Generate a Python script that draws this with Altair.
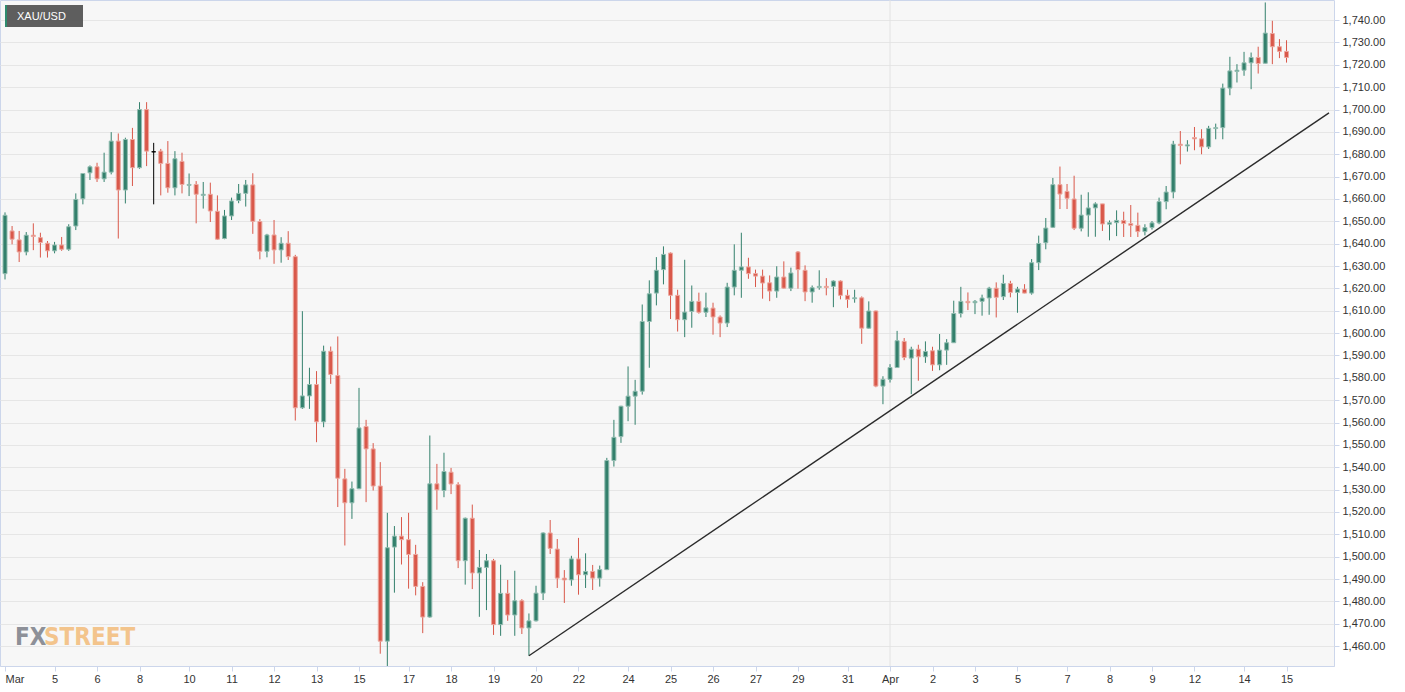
import altair as alt
import pandas as pd

# ---- data (4-hour XAU/USD candles) ----
opens = [1626.6,1645.7,1641.7,1636.3,1643.8,1642.7,1640.2,1636.8,1639.4,1637.5,
         1647.9,1660.1,1671.7,1674.4,1669.0,1672.0,1685.9,1664.0,1686.6,1674.0,
         1700.0,1681.1,1681.4,1675.9,1665.0,1676.8,1666.1,1666.5,1661.6,1662.1,
         1654.5,1642.3,1652.4,1659.3,1662.5,1666.3,1649.9,1636.6,1643.9,1637.2,
         1640.2,1634.2,1566.6,1571.9,1577.0,1560.3,1591.9,1581.0,1534.8,1524.1,
         1530.4,1558.2,1548.2,1531.6,1462.2,1504.3,1509.2,1507.6,1501.0,1486.7,
         1473.0,1532.6,1529.6,1537.8,1532.2,1498.2,1517.2,1492.7,1495.2,1498.2,
         1469.6,1483.6,1473.9,1480.3,1468.1,1471.3,1483.7,1510.6,1503.4,1490.4,
         1489.6,1499.0,1491.9,1493.4,1490.4,1494.2,1543.0,1553.7,1567.3,1571.8,
         1574.0,1605.2,1617.9,1628.4,1635.8,1616.9,1606.0,1609.7,1614.2,1609.3,
         1611.2,1607.2,1604.5,1620.6,1628.1,1629.6,1626.6,1625.5,1622.5,1618.8,
         1625.1,1620.1,1636.3,1628.1,1618.4,1620.4,1620.9,1620.9,1623.3,1616.9,
         1615.4,1615.8,1602.2,1609.9,1576.3,1579.3,1584.6,1596.3,1588.8,1592.8,
         1589.4,1592.1,1585.8,1592.4,1595.7,1608.8,1614.2,1613.6,1614.2,1615.7,
         1620.1,1616.3,1622.2,1618.2,1619.6,1617.9,1631.5,1640.4,1647.3,1666.4,
         1663.4,1660.0,1646.9,1652.8,1656.0,1657.8,1648.7,1649.4,1650.4,1649.0,
         1648.2,1645.4,1647.2,1649.3,1658.8,1663.1,1684.5,1683.7,1687.5,1686.9,
         1683.3,1691.5,1691.9,1709.6,1717.0,1717.6,1720.9,1723.3,1720.7,1734.0,
         1728.1,1726.0]
highs = [1654.0,1647.9,1645.7,1645.2,1649.1,1644.9,1641.2,1640.8,1643.0,1648.7,
         1662.5,1671.6,1675.0,1676.2,1680.7,1689.9,1689.3,1687.4,1691.8,1703.3,
         1703.3,1685.1,1682.4,1685.9,1681.4,1680.7,1671.4,1668.0,1667.6,1667.3,
         1661.6,1655.1,1660.6,1666.7,1668.5,1671.5,1651.0,1644.4,1650.6,1642.9,
         1645.6,1635.0,1609.8,1584.5,1583.0,1594.4,1594.0,1598.5,1539.3,1533.6,
         1575.5,1561.2,1550.8,1542.3,1519.6,1513.7,1517.7,1519.6,1505.3,1488.6,
         1554.2,1541.5,1546.5,1539.7,1533.3,1517.5,1523.3,1503.0,1501.2,1499.0,
         1496.4,1489.6,1493.7,1481.0,1474.6,1487.0,1510.9,1516.4,1507.9,1494.0,
         1500.4,1508.4,1501.5,1496.3,1496.0,1544.2,1561.2,1567.5,1585.1,1579.1,
         1612.8,1623.6,1634.0,1638.8,1636.1,1619.4,1632.8,1621.3,1618.1,1618.1,
         1613.6,1607.9,1622.5,1639.7,1644.9,1633.7,1628.4,1628.4,1625.8,1629.9,
         1632.1,1629.3,1636.7,1630.3,1621.3,1628.1,1624.6,1623.6,1623.6,1619.4,
         1619.4,1616.4,1614.2,1610.1,1580.7,1586.1,1601.0,1597.8,1593.9,1594.8,
         1596.3,1593.9,1599.6,1597.3,1614.5,1620.7,1618.2,1614.8,1617.2,1620.7,
         1622.7,1626.1,1623.4,1620.7,1621.9,1633.1,1643.6,1651.5,1669.4,1674.5,
         1666.7,1670.4,1661.9,1663.0,1658.5,1657.8,1650.4,1654.9,1654.3,1657.3,
         1653.9,1648.7,1650.1,1660.6,1665.8,1686.0,1690.4,1686.3,1692.2,1691.2,
         1692.7,1693.7,1711.6,1723.6,1720.3,1725.8,1725.5,1728.1,1747.9,1739.7,
         1731.5,1731.0]
lows = [1624.0,1639.7,1631.8,1634.8,1637.1,1633.8,1633.8,1635.7,1636.8,1636.8,
        1646.1,1657.6,1668.5,1667.6,1667.6,1671.0,1642.3,1658.0,1665.8,1673.5,
        1674.7,1657.6,1661.6,1662.8,1661.6,1662.5,1661.3,1649.1,1655.7,1649.7,
        1641.8,1642.0,1650.6,1658.1,1656.6,1644.4,1633.0,1633.9,1631.0,1631.5,
        1632.7,1560.9,1566.1,1566.1,1551.2,1557.9,1577.3,1522.2,1505.0,1516.9,
        1530.2,1524.4,1529.6,1456.6,1451.0,1483.9,1496.5,1485.7,1482.7,1465.8,
        1472.7,1521.0,1526.6,1528.0,1494.9,1487.5,1485.5,1473.1,1476.1,1465.0,
        1464.6,1471.3,1464.6,1465.4,1455.7,1471.0,1480.6,1501.2,1486.0,1479.3,
        1487.0,1483.0,1486.0,1485.1,1486.6,1494.0,1540.3,1550.9,1560.6,1559.0,
        1572.5,1584.5,1612.4,1621.8,1606.3,1600.7,1598.2,1602.4,1608.7,1607.2,
        1599.3,1598.2,1602.7,1616.9,1615.8,1624.3,1620.6,1615.4,1614.3,1615.8,
        1619.9,1618.8,1619.9,1614.3,1613.6,1619.4,1616.9,1611.6,1615.1,1611.3,
        1613.6,1595.2,1602.0,1575.8,1568.2,1577.9,1584.5,1587.9,1572.7,1578.7,
        1586.7,1583.1,1583.4,1585.8,1595.6,1607.0,1610.3,1608.5,1607.8,1608.2,
        1607.0,1614.8,1616.0,1609.1,1617.8,1617.2,1628.2,1637.5,1647.0,1655.5,
        1655.5,1646.1,1645.5,1643.1,1643.1,1645.7,1641.5,1643.4,1643.0,1643.0,
        1643.0,1643.7,1646.3,1648.7,1655.4,1660.3,1675.5,1681.2,1681.8,1680.0,
        1682.4,1686.7,1686.7,1706.4,1712.1,1715.1,1709.1,1716.1,1720.6,1720.3,
        1723.0,1721.0]
closes = [1652.7,1642.0,1636.3,1643.8,1643.2,1640.5,1636.8,1639.4,1637.5,1647.6,
          1659.8,1671.4,1674.4,1669.0,1672.0,1685.9,1664.0,1686.6,1674.0,1700.0,
          1681.4,1681.1,1675.9,1665.0,1678.0,1666.5,1666.5,1662.1,1662.1,1654.6,
          1642.0,1652.4,1659.1,1662.5,1666.3,1650.0,1636.6,1643.9,1637.2,1640.2,
          1634.2,1566.6,1571.9,1577.0,1560.3,1591.9,1581.5,1535.1,1524.1,1530.4,
          1557.6,1548.2,1531.6,1462.2,1504.0,1509.2,1507.6,1501.0,1486.7,1473.0,
          1532.6,1529.9,1538.1,1532.5,1498.2,1517.2,1492.7,1495.2,1498.2,1469.6,
          1483.6,1473.9,1480.3,1468.1,1471.3,1483.7,1510.6,1503.7,1490.4,1489.6,
          1499.0,1491.9,1493.4,1490.4,1494.2,1543.0,1553.4,1567.3,1571.8,1574.0,
          1605.2,1617.6,1628.1,1635.2,1616.9,1606.0,1609.4,1614.2,1609.3,1611.3,
          1607.2,1604.5,1620.6,1628.1,1629.6,1626.6,1625.5,1622.4,1618.8,1625.1,
          1620.1,1626.9,1628.4,1618.4,1620.3,1620.9,1620.4,1623.3,1616.9,1615.1,
          1615.8,1602.2,1609.9,1576.3,1579.3,1584.6,1596.6,1589.1,1592.8,1589.4,
          1591.8,1585.8,1592.4,1595.7,1608.8,1614.2,1613.6,1614.2,1615.7,1620.1,
          1616.0,1622.2,1618.2,1619.7,1617.9,1631.5,1640.1,1647.0,1666.4,1662.2,
          1660.3,1646.9,1652.8,1656.0,1657.8,1648.8,1649.4,1650.4,1649.0,1648.2,
          1645.4,1647.2,1649.3,1658.8,1663.1,1684.5,1683.9,1684.2,1686.9,1683.3,
          1691.6,1691.9,1709.6,1717.3,1717.6,1720.9,1723.3,1720.6,1734.2,1728.1,
          1726.0,1723.3]

tick_pos = [0, 7, 13, 19, 26, 32, 38, 44, 50, 57, 63, 69, 75, 81, 88, 94,
            100, 106, 112, 119, 125, 131, 137, 143, 150, 156, 162, 168, 175, 181]
tick_labels = ["Mar", "5", "6", "8", "10", "11", "12", "13", "15", "17", "18",
               "19", "20", "22", "24", "25", "26", "27", "29", "31", "Apr", "2",
               "3", "5", "7", "8", "9", "12", "14", "15"]
y_ticks = [1460, 1470, 1480, 1490, 1500, 1510, 1520, 1530, 1540, 1550, 1560,
           1570, 1580, 1590, 1600, 1610, 1620, 1630, 1640, 1650, 1660, 1670,
           1680, 1690, 1700, 1710, 1720, 1730, 1740]

trend_idx = [74, 187]
trend_val = [1455.7, 1698.5]
month_start = [125]

# ---- build table ----
n = len(opens)
dirs = ["up" if c > o else ("down" if c < o else "flat") for o, c in zip(opens, closes)]
df = pd.DataFrame({"i": list(range(n)), "open": opens, "high": highs,
                   "low": lows, "close": closes, "dir": dirs})
trend_df = pd.DataFrame({"i": trend_idx, "v": trend_val})
month_df = pd.DataFrame({"i": month_start})

GREEN = "#33806c"
RED = "#d9584a"
AXIS_LINE = "#ccd6eb"
FONT = "Liberation Sans, Arial, sans-serif"

xs = alt.Scale(domain=[0, 187], nice=False, zero=False)
ys = alt.Scale(domain=[1451.1, 1749.0], nice=False, zero=False)

label_expr = "{}[indexof({}, datum.value)]".format(
    "[" + ",".join("'%s'" % t for t in tick_labels) + "]",
    "[" + ",".join(str(p) for p in tick_pos) + "]")

xaxis = alt.Axis(values=tick_pos, labelExpr=label_expr, grid=False, tickSize=5,
                 tickColor=AXIS_LINE, domainColor=AXIS_LINE, labelFont=FONT,
                 labelFontSize=11, labelColor="#333333", labelFlush=False,
                 labelAlign={"condition": {"test": "datum.value == 0", "value": "left"},
                             "value": "center"},
                 labelOverlap=False, labelPadding=2, title=None)
yaxis = alt.Axis(orient="right", values=y_ticks, format=",.2f", tickSize=5,
                 tickColor=AXIS_LINE, domain=False, labelFont=FONT,
                 labelFontSize=11, labelColor="#333333", labelPadding=3,
                 grid=True, gridColor="#e6e6e6", title=None)

fill_scale = alt.Scale(domain=["up", "down", "flat"], range=[GREEN, RED, "#000000"])
stroke_scale = alt.Scale(domain=["up", "down", "flat"], range=["#93bdb1", "#eca89f", "#000000"])

month_rule = alt.Chart(month_df).mark_rule(color="#e3e3e3", strokeWidth=1).encode(
    x=alt.X("i:Q", scale=xs, axis=xaxis))

wicks = alt.Chart(df).mark_rule(strokeWidth=1, clip=True).encode(
    x=alt.X("i:Q", scale=xs, axis=xaxis),
    y=alt.Y("low:Q", scale=ys, axis=yaxis),
    y2="high:Q",
    color=alt.Color("dir:N", scale=fill_scale, legend=None))

bodies = alt.Chart(df).mark_bar(size=4, strokeWidth=1, clip=True).encode(
    x=alt.X("i:Q", scale=xs, axis=xaxis),
    y=alt.Y("open:Q", scale=ys, axis=yaxis),
    y2="close:Q",
    fill=alt.Fill("dir:N", scale=fill_scale, legend=None),
    stroke=alt.Stroke("dir:N", scale=stroke_scale, legend=None))

trend = alt.Chart(trend_df).mark_line(color="#2b2b2b", strokeWidth=1.4, clip=True).encode(
    x=alt.X("i:Q", scale=xs, axis=xaxis),
    y=alt.Y("v:Q", scale=ys, axis=yaxis))

one = pd.DataFrame({"a": [0]})
tag_box = alt.Chart(one).mark_rect(color="#555555", opacity=0.95).encode(
    x=alt.value(5), x2=alt.value(83), y=alt.value(5), y2=alt.value(27))
tag_strip = alt.Chart(one).mark_rect(color="#2e8b6e").encode(
    x=alt.value(5), x2=alt.value(7), y=alt.value(5), y2=alt.value(27))
tag_text = alt.Chart(one).mark_text(align="left", baseline="middle", font=FONT,
                                    fontSize=11, color="#ffffff").encode(
    x=alt.value(17), y=alt.value(16.5), text=alt.value("XAU/USD"))

LOGO_FONT = "Liberation Sans Narrow, DejaVu Sans Condensed, sans-serif"
logo_fx = alt.Chart(one).mark_text(align="left", baseline="alphabetic", font=LOGO_FONT,
                                   fontSize=24, fontWeight="bold", color="#8d9098").encode(
    x=alt.value(15), y=alt.value(645), text=alt.value("FX"))
logo_st = alt.Chart(one).mark_text(align="left", baseline="alphabetic", font=LOGO_FONT,
                                   fontSize=24, fontWeight="bold", color="#f3c48c").encode(
    x=alt.value(44), y=alt.value(645), text=alt.value("STREET"))

chart = alt.layer(month_rule, logo_fx, logo_st, wicks, bodies, trend,
                  tag_box, tag_strip, tag_text).properties(
    width=1334, height=666,
    autosize=alt.AutoSizeParams(type="none"),
    padding={"left": 0, "top": 0, "right": 71, "bottom": 26},
    background="#ffffff",
).configure_view(fill="#f7f7f7", stroke=AXIS_LINE, strokeWidth=1)

chart.save("out.html", embed_options={"renderer": "svg", "actions": False})
